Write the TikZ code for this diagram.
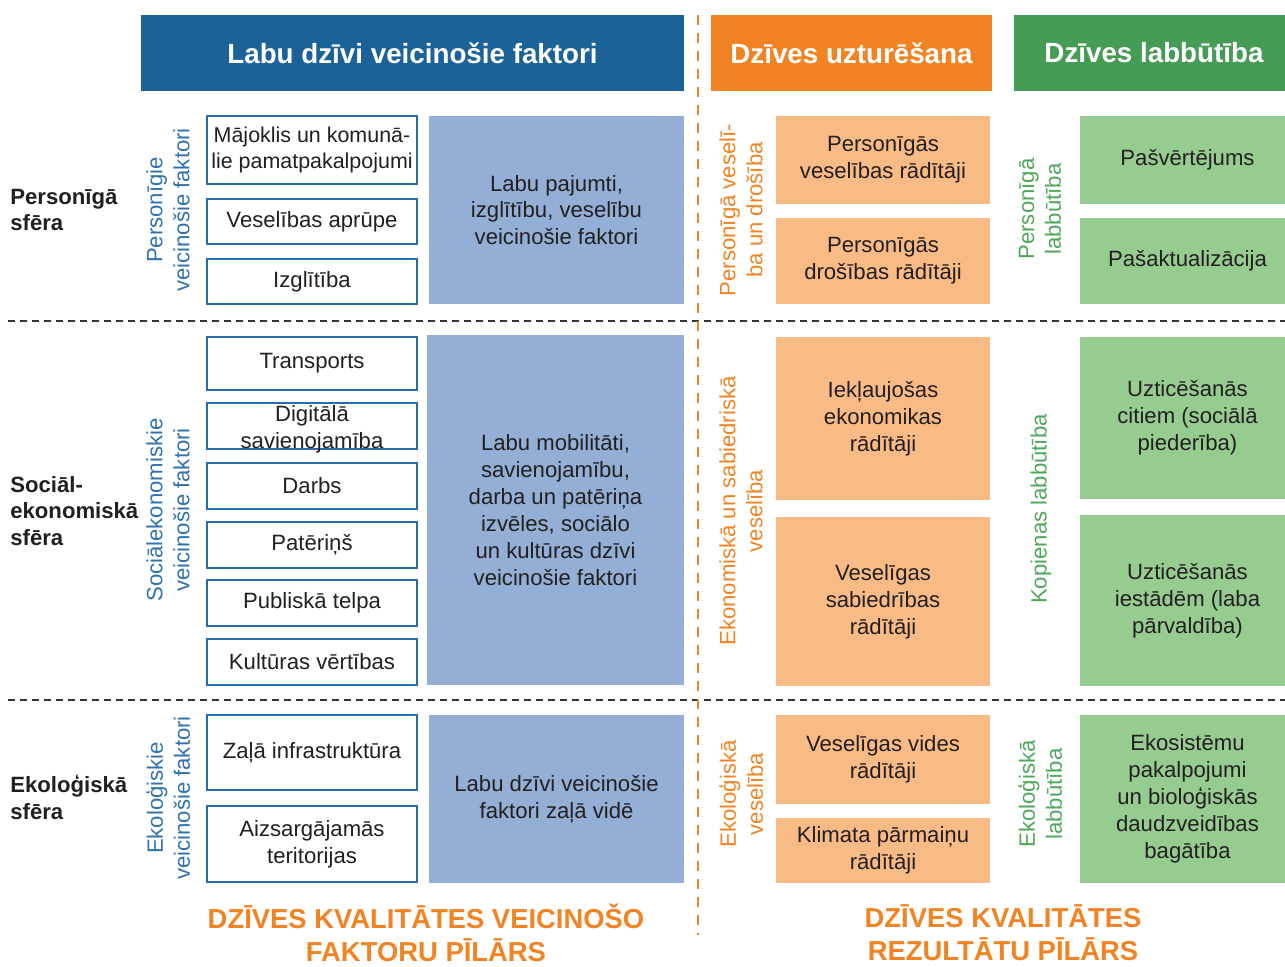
\documentclass[tikz,border=0pt]{standalone}
\usepackage{fontspec}
\setmainfont{Liberation Sans}
\usepackage{xcolor}
\usepackage{tikz}
\usetikzlibrary{shapes,positioning}
\definecolor{hblue}{HTML}{1B6299}
\definecolor{horange}{HTML}{F28322}
\definecolor{hgreen}{HTML}{469B55}
\definecolor{lblue}{HTML}{94AFD5}
\definecolor{lorange}{HTML}{F9BB85}
\definecolor{lgreen}{HTML}{97CC91}
\definecolor{wline}{HTML}{2A6CA9}
\definecolor{txt}{HTML}{231F20}
\definecolor{vblue}{HTML}{2F72AE}
\definecolor{vgreen}{HTML}{4FA75A}
\tikzset{base/.style={inner sep=0pt,align=center,text=txt,font=\fontsize{12.6}{15.3}\selectfont},
  hdr/.style={base,minimum height=1.52cm,text=white,font=\fontsize{15.8}{19}\selectfont\bfseries},
  wbox/.style={base,draw=wline,line width=0.8pt,fill=white,minimum width=4.2cm},
  bbox/.style={base,fill=lblue,minimum width=5.1cm},
  obox/.style={base,fill=lorange,minimum width=4.28cm},
  gbox/.style={base,fill=lgreen,minimum width=4.3cm},
  vlab/.style={base,rotate=90},
  sph/.style={base,anchor=west,align=left,font=\fontsize{12.6}{15.3}\selectfont\bfseries},
  pil/.style={base,text=horange,font=\fontsize{15.6}{18.8}\selectfont\bfseries}}

\begin{document}
\begin{tikzpicture}[x=0.02cm,y=-0.02cm]
    \useasboundingbox (0,0) rectangle (1285,967);

    % separators
    \draw[black!80,line width=0.6pt,dash pattern=on 0.14cm off 0.1cm] (8,321) -- (1285,321);
    \draw[black!80,line width=0.6pt,dash pattern=on 0.14cm off 0.1cm] (8,700) -- (1285,700);
    \draw[horange,line width=1.3pt,dash pattern=on 0.2cm off 0.16cm] (698,15) -- (698,935);

    % headers
    \node[hdr,fill=hblue,minimum width=10.86cm] (h1)at (412.5,53) {Labu dzīvi veicinošie faktori};
    \node[hdr,fill=horange,minimum width=5.62cm] (h2)at (851.5,53) {Dzīves uzturēšana};
    \node[hdr,fill=hgreen,minimum width=5.6cm] (h3)at (1154,53) {Dzīves labbūtība};

    % spheres
    \node[sph] (s1)at (10,210) {Personīgā\\sfēra};
    \node[sph] (s2)at (10,511) {Sociāl-\\ekonomiskā\\sfēra};
    \node[sph] (s3)at (10,797) {Ekoloģiskā\\sfēra};

    % personal sphere
    \node[vlab,text=vblue] (v1)at (168,210) {Personīgie\\veicinošie faktori};
    \node[wbox,minimum height=1.36cm,font=\fontsize{12.2}{15.3}\selectfont] (a1)at (312,150) {Mājoklis un komunā-\\lie pamatpakalpojumi};
    \node[wbox,minimum height=0.9cm] (a2)at (312,221.5) {Veselības aprūpe};
    \node[wbox,minimum height=0.9cm] (a3)at (312,281.5) {Izglītība};
    \node[bbox,minimum height=3.76cm] (a4)at (556.5,210) {Labu pajumti,\\izglītību, veselību\\veicinošie faktori};
    \node[vlab,text=horange] (o1)at (741,210) {Personīgā veselī-\\ba un drošība};
    \node[obox,minimum height=1.76cm] (a5)at (883,160) {Personīgās\\veselības rādītāji};
    \node[obox,minimum height=1.72cm] (a6)at (883,261) {Personīgās\\drošības rādītāji};
    \node[vlab,text=vgreen] (g1)at (1040,209) {Personīgā\\labbūtība};
    \node[gbox,minimum height=1.76cm] (a7)at (1187.5,160) {Pašvērtējums};
    \node[gbox,minimum height=1.72cm] (a8)at (1187.5,261) {Pašaktualizācija};

    % socio-economic sphere
    \node[vlab,text=vblue] (v2)at (168,510) {Sociālekonomiskie\\veicinošie faktori};
    \node[wbox,minimum height=1.06cm] (b1)at (312,363.5) {Transports};
    \node[wbox,minimum height=0.92cm] (b2)at (312,426) {};
    \node[base] (b2t)at (312,429) {Digitālā\\savienojamība};
    \node[wbox,minimum height=0.92cm] (b3)at (312,486) {Darbs};
    \node[wbox,minimum height=0.92cm] (b4)at (312,545) {Patēriņš};
    \node[wbox,minimum height=0.92cm] (b5)at (312,603) {Publiskā telpa};
    \node[wbox,minimum height=0.92cm] (b6)at (312,662) {Kultūras vērtības};
    \node[bbox,minimum width=5.14cm,minimum height=7cm] (b7)at (555.5,510) {Labu mobilitāti,\\savienojamību,\\darba un patēriņa\\izvēles, sociālo\\un kultūras dzīvi\\veicinošie faktori};
    \node[vlab,text=horange] (o2)at (741,511) {Ekonomiskā un sabiedriskā\\veselība};
    \node[obox,minimum height=3.26cm] (b8)at (883,418.5) {Iekļaujošas\\ekonomikas\\rādītāji};
    \node[obox,minimum height=3.38cm] (b9)at (883,601.5) {Veselīgas\\sabiedrības\\rādītāji};
    \node[vlab,text=vgreen] (g2)at (1041,509) {Kopienas labbūtība};
    \node[gbox,minimum height=3.24cm] (b10)at (1187.5,418) {Uzticēšanās\\citiem (sociālā\\piederība)};
    \node[gbox,minimum height=3.42cm] (b11)at (1187.5,600.5) {Uzticēšanās\\iestādēm (laba\\pārvaldība)};

    % ecological sphere
    \node[vlab,text=vblue] (v3)at (168,798) {Ekoloģiskie\\veicinošie faktori};
    \node[wbox,minimum height=1.5cm] (c1)at (312,752.5) {Zaļā infrastruktūra};
    \node[wbox,minimum height=1.52cm] (c2)at (312,844) {Aizsargājamās\\teritorijas};
    \node[bbox,minimum height=3.36cm] (c3)at (556.5,799) {Labu dzīvi veicinošie\\faktori zaļā vidē};
    \node[vlab,text=horange] (o3)at (741,794) {Ekoloģiskā\\veselība};
    \node[obox,minimum height=1.78cm] (c4)at (883,759.5) {Veselīgas vides\\rādītāji};
    \node[obox,minimum height=1.3cm] (c5)at (883,850.5) {Klimata pārmaiņu\\rādītāji};
    \node[vlab,text=vgreen] (g3)at (1040,794) {Ekoloģiskā\\labbūtība};
    \node[gbox,minimum height=3.36cm] (c6)at (1187.5,799) {Ekosistēmu\\pakalpojumi\\un bioloģiskās\\daudzveidības\\bagātība};

    % pillars
    \node[pil] (p1)at (426,933) {DZĪVES KVALITĀTES VEICINOŠO\\FAKTORU PĪLĀRS};
    \node[pil] (p2)at (1003,933) {DZĪVES KVALITĀTES\\REZULTĀTU PĪLĀRS};
\end{tikzpicture}
\end{document}
